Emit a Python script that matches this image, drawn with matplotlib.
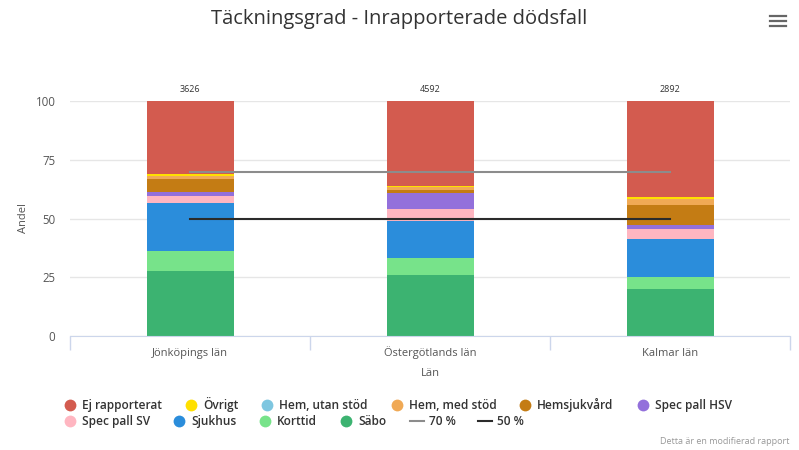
import numpy as np
import matplotlib.pyplot as plt
from matplotlib.lines import Line2D

plt.rcParams['font.family'] = ['Open Sans', 'DejaVu Sans']

lan = ['Jönköpings län', 'Östergötlands län', 'Kalmar län']
totals = [3626, 4592, 2892]

# stacked from bottom to top
series_names = ['Säbo', 'Korttid', 'Sjukhus', 'Spec pall SV', 'Spec pall HSV',
                'Hemsjukvård', 'Hem, med stöd', 'Hem, utan stöd', 'Övrigt',
                'Ej rapporterat']
series_colors = ['#3cb371', '#77e38a', '#2b8ddb', '#ffb6c1', '#9370db',
                 '#c47c14', '#f0a955', '#7ec6e0', '#ffe000', '#d35b4f']
sabo = [27.7, 26.0, 20.0]
korttid = [8.5, 7.3, 5.0]
sjukhus = [20.4, 15.8, 16.3]
spec_pall_sv = [3.0, 4.9, 4.2]
spec_pall_hsv = [1.8, 6.7, 1.7]
hemsjukvard = [5.5, 1.4, 8.5]
hem_med_stod = [1.2, 1.2, 2.4]
hem_utan_stod = [0.0, 0.0, 0.0]
ovrigt = [0.8, 0.5, 1.2]
ej_rapporterat = [31.1, 36.2, 40.7]
series_values = [sabo, korttid, sjukhus, spec_pall_sv, spec_pall_hsv,
                 hemsjukvard, hem_med_stod, hem_utan_stod, ovrigt, ej_rapporterat]

goal_70 = [70, 70, 70]
goal_50 = [50, 50, 50]

W, H = 799, 450
AX_BOTTOM, AX_H = 336, 235
fig = plt.figure(figsize=(W / 100, H / 100), dpi=100)
ax = fig.add_axes([70 / W, (H - AX_BOTTOM) / H, 720 / W, AX_H / H])

x = np.arange(len(lan))
bottom = np.zeros(len(lan))
for name, vals, col in zip(series_names, series_values, series_colors):
    ax.bar(x, vals, width=0.3625, bottom=bottom, color=col, linewidth=0, zorder=2)
    bottom += np.array(vals)

ax.plot(x, goal_70, color='#8c8c8c', lw=1.5, zorder=3)
ax.plot(x, goal_50, color='#2b2b2b', lw=1.5, zorder=3)

for xi, tot, b in zip(x, totals, bottom):
    ax.text(xi, b + 3, str(tot), ha='center', va='bottom', fontsize=6.5,
            color='#333333', clip_on=False)

ax.set_xlim(-0.5, 2.5)
ax.set_ylim(0, 100)
ax.set_yticks([0, 25, 50, 75, 100])
ax.set_xticks([-0.5, 0.5, 1.5, 2.5])
ax.set_xticklabels([])
ax.tick_params(axis='x', length=10, color='#ccd6eb', width=1)
ax.tick_params(axis='y', length=0, pad=10.5, labelsize=8.3, labelcolor='#555555')
ax.grid(axis='y', color='#e6e6e6', lw=1, zorder=0)
ax.set_axisbelow(True)
for s in ['top', 'right', 'left']:
    ax.spines[s].set_visible(False)
ax.spines['bottom'].set_color('#ccd6eb')
ax.set_ylabel('Andel', fontsize=8, color='#555555', labelpad=5)

# category labels on a common baseline (umlauts otherwise shift them)
btrans = ax.get_xaxis_transform()
for xi, name in zip(x, lan):
    ax.text(xi, -20 / AX_H, name, transform=btrans, ha='center', va='baseline',
            fontsize=8, color='#555555')
ax.text(0.5, -40 / AX_H, 'Län', transform=ax.transAxes, ha='center', va='baseline',
        fontsize=8, color='#555555')

fig.text(0.5, 1 - 24 / H, 'Täckningsgrad - Inrapporterade dödsfall', ha='center',
         va='baseline', fontsize=14.5, color='#333333')

# hamburger menu
for yy in [16, 21, 26]:
    fig.add_artist(Line2D([770 / W, 786 / W], [1 - yy / H, 1 - yy / H],
                          color='#666666', lw=1.6))

# legend, laid out like a flowing html legend
legend_items = [(n, c, 'dot') for n, c in zip(series_names[::-1], series_colors[::-1])]
legend_items += [('70 %', '#8c8c8c', 'line'), ('50 %', '#2b2b2b', 'line')]
rows = [legend_items[:6], legend_items[6:]]
row_y = [405, 421]
renderer = fig.canvas.get_renderer()
for items, ry in zip(rows, row_y):
    xp = 64
    for label, col, kind in items:
        yf = 1 - ry / H
        if kind == 'dot':
            fig.add_artist(Line2D([(xp + 6) / W], [yf], marker='o', markersize=8.5,
                                  color=col, markeredgewidth=0))
            tx = xp + 18
        else:
            fig.add_artist(Line2D([xp / W, (xp + 14) / W], [yf, yf], color=col, lw=1.5))
            tx = xp + 19
        t = fig.text(tx / W, 1 - (ry + 4) / H, label, ha='left', va='baseline',
                     fontsize=8.6, fontweight='semibold', color='#333333')
        bb = t.get_window_extent(renderer)
        xp = tx + bb.width + 23

fig.text(789 / W, 1 - 444 / H, 'Detta är en modifierad rapport', ha='right',
         va='baseline', fontsize=6.5, color='#999999')

fig.savefig('out.png', dpi=100)
